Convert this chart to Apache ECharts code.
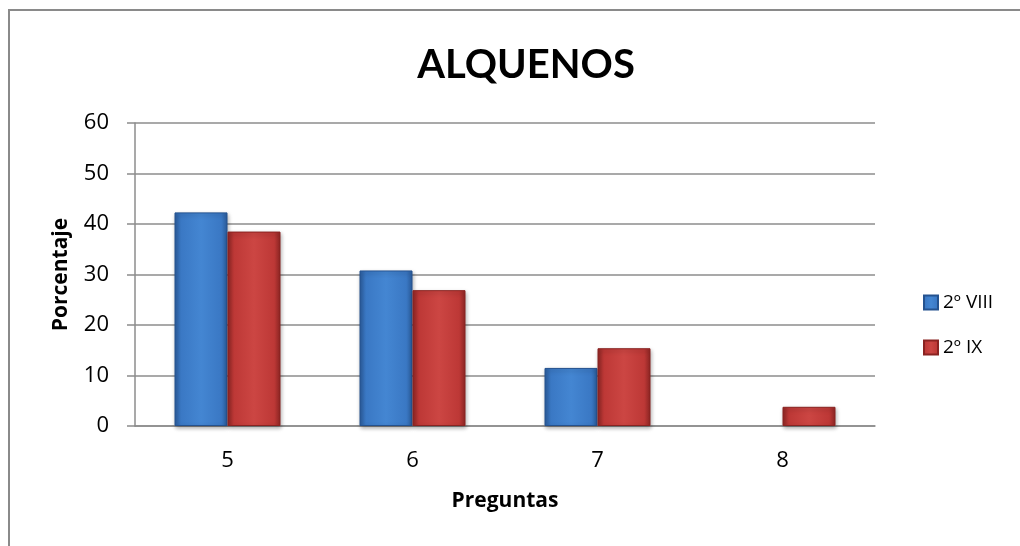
<!DOCTYPE html>
<html>
<head>
<meta charset="utf-8">
<style>
  html, body { margin: 0; padding: 0; background: #fff; }
  #frame { position: absolute; left: 8px; top: 9px; right: -4px; bottom: -4px;
           border-left: 2px solid #8a8a8a; border-top: 2px solid #8a8a8a; }
  #chart { position: absolute; left: 0; top: 0; width: 1020px; height: 546px; }
</style>
<script src="https://cdn.jsdelivr.net/npm/echarts@6/dist/echarts.min.js"></script>
</head>
<body>
<div id="frame"></div>
<div id="chart"></div>
<script>
const categories = ['5', '6', '7', '8'];
const seriesNames = ['2º VIII', '2º IX'];
const viiiValues = [42.3, 30.8, 11.5, 0];
const ixValues = [38.5, 26.9, 15.4, 3.8];
const yTicks = [0, 10, 20, 30, 40, 50, 60];

const TITLE_FONT = 'Lato, "Open Sans", sans-serif';
const FONT = '"Open Sans", "Noto Sans", sans-serif';

function barFill(dark, mid, light) {
  return new echarts.graphic.LinearGradient(0, 0, 1, 0, [
    { offset: 0, color: dark },
    { offset: 0.12, color: mid },
    { offset: 0.5, color: light },
    { offset: 0.88, color: mid },
    { offset: 1, color: dark }
  ]);
}

const blueFill = barFill('#2b5c9c', '#3a78c4', '#4486d2');
const redFill = barFill('#8e2624', '#bd3836', '#cc4643');

// zero-height bars get no outline or shadow
function barData(values) {
  return values.map(v => v === 0
    ? { value: v, itemStyle: { borderWidth: 0, shadowBlur: 0, shadowOffsetY: 0, shadowOffsetX: 0 } }
    : v);
}

function barStyle(fill, border) {
  return {
    color: fill,
    borderColor: border,
    borderWidth: 1,
    shadowColor: 'rgba(0,0,0,0.3)',
    shadowBlur: 4,
    shadowOffsetX: 1,
    shadowOffsetY: 2
  };
}

const chart = echarts.init(document.getElementById('chart'), null, { renderer: 'canvas' });

chart.setOption({
  animation: false,
  backgroundColor: 'transparent',
  title: {
    text: 'ALQUENOS',
    left: 521,
    textAlign: 'center',
    top: 40,
    textStyle: { fontFamily: TITLE_FONT, fontWeight: 'bold', fontSize: 40, color: '#000' }
  },
  legend: {
    orient: 'vertical',
    left: 918,
    top: 288,
    itemWidth: 14,
    itemHeight: 14,
    itemGap: 26,
    icon: 'rect',
    data: seriesNames,
    textStyle: { fontFamily: FONT, fontSize: 19, color: '#000' }
  },
  grid: { left: 135, right: 145, top: 123, bottom: 120, containLabel: false },
  xAxis: {
    type: 'category',
    data: categories,
    name: 'Preguntas',
    nameLocation: 'middle',
    nameGap: 65,
    nameTextStyle: { fontFamily: FONT, fontWeight: 'bold', fontSize: 21, color: '#000' },
    axisLine: { show: true, lineStyle: { color: '#8c8c8c', width: 1.5 } },
    axisTick: { show: false },
    axisLabel: { fontFamily: FONT, fontSize: 22, color: '#000', margin: 24 }
  },
  yAxis: {
    type: 'value',
    min: yTicks[0],
    max: yTicks[yTicks.length - 1],
    interval: 10,
    name: 'Porcentaje',
    nameLocation: 'middle',
    nameGap: 63,
    nameRotate: 90,
    nameTextStyle: { fontFamily: FONT, fontWeight: 'bold', fontSize: 21, color: '#000' },
    axisLine: { show: true, lineStyle: { color: '#8c8c8c', width: 1.5 } },
    axisTick: { show: true, length: 8, lineStyle: { color: '#8c8c8c', width: 1.5 } },
    axisLabel: { fontFamily: FONT, fontSize: 22, color: '#000', margin: 26 },
    splitLine: { show: true, lineStyle: { color: '#8c8c8c', width: 1.5 } }
  },
  series: [
    {
      name: seriesNames[0],
      type: 'bar',
      data: barData(viiiValues),
      barWidth: 53,
      barGap: '0%',
      itemStyle: barStyle(blueFill, '#24528f')
    },
    {
      name: seriesNames[1],
      type: 'bar',
      data: barData(ixValues),
      barWidth: 53,
      barGap: '0%',
      itemStyle: barStyle(redFill, '#8a2321')
    }
  ]
});
</script>
</body>
</html>
